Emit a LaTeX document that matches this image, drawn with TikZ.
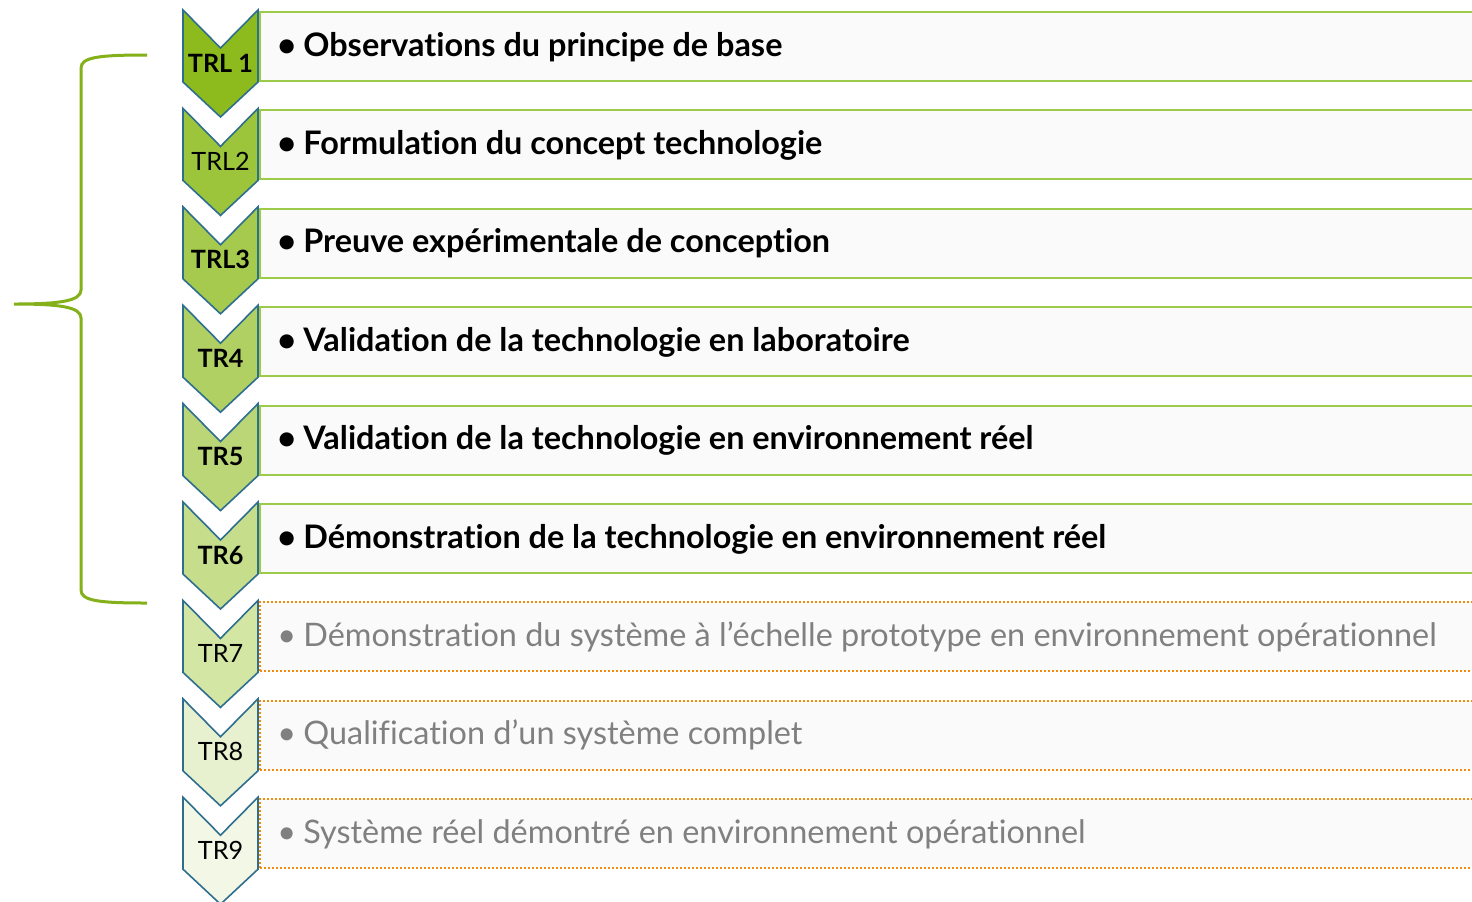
\documentclass[tikz,border=0pt]{standalone}
\usepackage{fontspec}
\setmainfont{Lato}[Ligatures={NoCommon}]
\usetikzlibrary{positioning}
\definecolor{trlA}{HTML}{8DBB1E}
\definecolor{trlB}{HTML}{9CC53B}
\definecolor{trlC}{HTML}{A6CA4E}
\definecolor{trlD}{HTML}{B1D063}
\definecolor{trlE}{HTML}{BBD676}
\definecolor{trlF}{HTML}{C6DD8C}
\definecolor{trlG}{HTML}{D4E6A4}
\definecolor{trlH}{HTML}{E7F1CF}
\definecolor{trlI}{HTML}{F2F7E6}
\definecolor{chevline}{HTML}{2E6E8E}
\definecolor{boxgreen}{HTML}{9CCB4A}
\definecolor{boxorange}{HTML}{F28A0C}
\definecolor{boxfill}{HTML}{FAFAFA}
\definecolor{bracegreen}{HTML}{84B01A}
\definecolor{graytext}{HTML}{808080}
\tikzset{chev/.style={draw=chevline,line width=0.8pt,line join=miter,fill=#1}}
\tikzset{lvl/.style={anchor=base,inner sep=0pt,font=\fontsize{12.6pt}{15pt}\selectfont}}
\tikzset{donebox/.style={draw=boxgreen,line width=1pt,fill=boxfill,anchor=north west,
    minimum width=620pt,minimum height=34.5pt,inner sep=0pt}}
\tikzset{todobox/.style={donebox,draw=boxorange,dash pattern=on 1pt off 1pt}}
\tikzset{donetxt/.style={anchor=base west,inner sep=0pt,font=\fontsize{16.2pt}{20pt}\selectfont\bfseries}}
\tikzset{todotxt/.style={anchor=base west,inner sep=0pt,text=graytext,font=\fontsize{16.2pt}{20pt}\selectfont}}
\def\chev#1{(183,#1) -- ++(37.5,38) -- ++(37.5,-38) -- ++(0,72) -- ++(-37.5,35) -- ++(-37.5,-35) -- cycle}
\def\itm#1{\makebox[13pt][l]{\textbullet}#1}

\begin{document}
\begin{tikzpicture}[x=0.5pt,y=-0.5pt]
        \useasboundingbox[fill=white] (0,0) rectangle (1472,901);
        % boxes
        \node[donebox] (b1) at (259,11) {};
        \node[donebox] (b2) at (259,109.4) {};
        \node[donebox] (b3) at (259,207.8) {};
        \node[donebox] (b4) at (259,306.2) {};
        \node[donebox] (b5) at (259,404.6) {};
        \node[donebox] (b6) at (259,503) {};
        \node[todobox] (b7) at (259,601.4) {};
        \node[todobox] (b8) at (259,699.8) {};
        \node[todobox] (b9) at (259,798.2) {};
        % texts
        \node[donetxt] (t1) at (277,56) {\itm{Observations du principe de base}};
        \node[donetxt] (t2) at (277,154.4) {\itm{Formulation du concept technologie}};
        \node[donetxt] (t3) at (277,252.8) {\itm{Preuve expérimentale de conception}};
        \node[donetxt] (t4) at (277,351.2) {\itm{Validation de la technologie en laboratoire}};
        \node[donetxt] (t5) at (277,449.6) {\itm{Validation de la technologie en environnement réel}};
        \node[donetxt] (t6) at (277,548) {\itm{Démonstration de la technologie en environnement réel}};
        \node[todotxt] (t7) at (277,646.4) {\itm{Démonstration du système à l’échelle prototype en environnement opérationnel}};
        \node[todotxt] (t8) at (277,744.8) {\itm{Qualification d’un système complet}};
        \node[todotxt] (t9) at (277,843.2) {\itm{Système réel démontré en environnement opérationnel}};
        % chevrons
        \draw[chev=trlA] \chev{10};
        \draw[chev=trlB] \chev{108.4};
        \draw[chev=trlC] \chev{206.8};
        \draw[chev=trlD] \chev{305.2};
        \draw[chev=trlE] \chev{403.6};
        \draw[chev=trlF] \chev{502};
        \draw[chev=trlG] \chev{600.4};
        \draw[chev=trlH] \chev{698.8};
        \draw[chev=trlI] \chev{797.2};
        \node[lvl,font=\fontsize{12.6pt}{15pt}\selectfont\bfseries] (l1) at (220.5,72) {TRL 1};
        \node[lvl] (l2) at (220.5,170.4) {TRL2};
        \node[lvl,font=\fontsize{12.6pt}{15pt}\selectfont\bfseries] (l3) at (220.5,268.8) {TRL3};
        \node[lvl,font=\fontsize{12.6pt}{15pt}\selectfont\bfseries] (l4) at (220.5,367.2) {TR4};
        \node[lvl,font=\fontsize{12.6pt}{15pt}\selectfont\bfseries] (l5) at (220.5,465.6) {TR5};
        \node[lvl,font=\fontsize{12.6pt}{15pt}\selectfont\bfseries] (l6) at (220.5,564) {TR6};
        \node[lvl] (l7) at (220.5,662.4) {TR7};
        \node[lvl] (l8) at (220.5,760.8) {TR8};
        \node[lvl] (l9) at (220.5,859.2) {TR9};
        % brace
        \draw[bracegreen,line width=1.5pt] (147,55) .. controls (100,55) and (81,57) .. (81,68)
          -- (81,290) .. controls (81,301) and (60,304) .. (14,304)
          .. controls (60,304) and (81,307) .. (81,318)
          -- (81,590) .. controls (81,601) and (100,603) .. (147,603);
      \end{tikzpicture}
\end{document}
